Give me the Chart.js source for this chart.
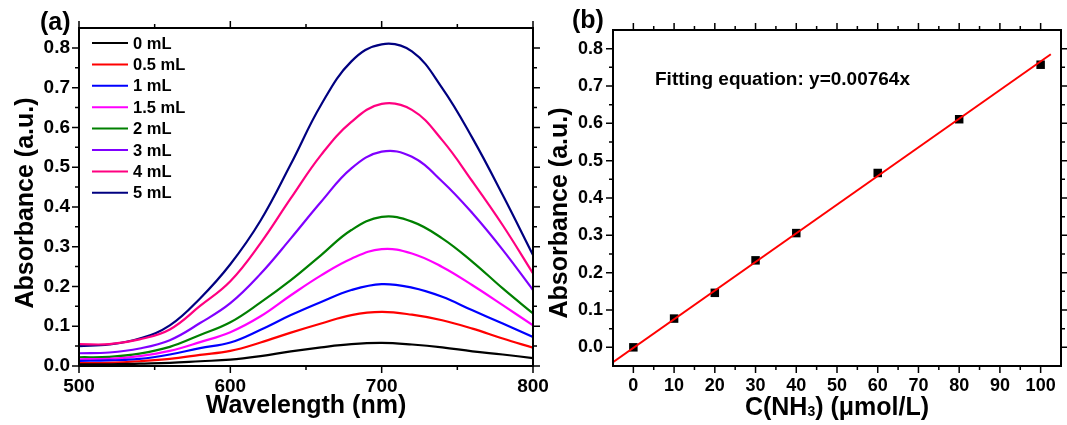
<!DOCTYPE html>
<html>
<head>
<meta charset="utf-8">
<script src="https://cdn.jsdelivr.net/npm/chart.js@4.4.1/dist/chart.umd.min.js"></script>
<style>
  html, body { margin: 0; padding: 0; background: #fff; }
  #wrap { position: relative; width: 1067px; height: 425px; overflow: hidden; background: #fff; }
  canvas { position: absolute; top: 0; }
  #chartA { left: 0; }
  #chartB { left: 540px; }
</style>
</head>
<body>
<div id="wrap">
  <canvas id="chartA" width="560" height="425"></canvas>
  <canvas id="chartB" width="527" height="425"></canvas>
</div>
<script>
const FONT = '"Liberation Sans", Arial, Helvetica, sans-serif';

// (a) absorption spectra, every 20 nm
const wavelengths = [500, 520, 540, 560, 580, 600, 620, 640, 660, 680, 700, 720, 740, 760, 780, 800];
const spectraLabels = ['0 mL', '0.5 mL', '1 mL', '1.5 mL', '2 mL', '3 mL', '4 mL', '5 mL'];
const spectraColors = ['#000000', '#ff0000', '#0000ff', '#ff00ff', '#008000', '#8000ff', '#ff0080', '#000080'];
const abs0mL   = [0.004, 0.004, 0.006, 0.008, 0.012, 0.016, 0.025, 0.037, 0.047, 0.055, 0.058, 0.054, 0.047, 0.037, 0.029, 0.020];
const abs05mL  = [0.007, 0.008, 0.012, 0.018, 0.028, 0.038, 0.059, 0.084, 0.107, 0.128, 0.136, 0.129, 0.115, 0.094, 0.069, 0.046];
const abs1mL   = [0.013, 0.014, 0.018, 0.029, 0.045, 0.059, 0.091, 0.128, 0.161, 0.191, 0.206, 0.197, 0.174, 0.140, 0.107, 0.073];
const abs15mL  = [0.017, 0.018, 0.025, 0.038, 0.060, 0.085, 0.125, 0.178, 0.228, 0.270, 0.294, 0.283, 0.249, 0.203, 0.153, 0.102];
const abs2mL   = [0.022, 0.023, 0.031, 0.048, 0.078, 0.110, 0.160, 0.216, 0.279, 0.342, 0.375, 0.363, 0.321, 0.262, 0.195, 0.132];
const abs3mL   = [0.032, 0.034, 0.044, 0.065, 0.108, 0.158, 0.232, 0.321, 0.413, 0.497, 0.539, 0.526, 0.464, 0.384, 0.292, 0.191];
const abs4mL   = [0.055, 0.055, 0.067, 0.092, 0.151, 0.213, 0.309, 0.422, 0.531, 0.614, 0.659, 0.644, 0.568, 0.464, 0.354, 0.233];
const abs5mL   = [0.050, 0.054, 0.069, 0.102, 0.170, 0.256, 0.366, 0.508, 0.657, 0.766, 0.809, 0.791, 0.699, 0.573, 0.430, 0.279];
const spectra = [abs0mL, abs05mL, abs1mL, abs15mL, abs2mL, abs3mL, abs4mL, abs5mL];

const aXTicks = [500, 600, 700, 800];
const aXMinor = [550, 650, 750];
const aYTicks = [0, 0.1, 0.2, 0.3, 0.4, 0.5, 0.6, 0.7, 0.8];
const aYMinor = [0.05, 0.15, 0.25, 0.35, 0.45, 0.55, 0.65, 0.75];

// (b) calibration points and fitted line
const concentrations = [0, 10, 20, 30, 40, 60, 80, 100];
const absorbances = [0.000, 0.077, 0.146, 0.233, 0.306, 0.467, 0.611, 0.757];
const fitX = [-5, 102.5];
const fitY = [-0.040, 0.785];

const bXTicks = [0, 10, 20, 30, 40, 50, 60, 70, 80, 90, 100];
const bXMinor = [5, 15, 25, 35, 45, 55, 65, 75, 85, 95];
const bYTicks = [0, 0.1, 0.2, 0.3, 0.4, 0.5, 0.6, 0.7, 0.8];
const bYMinor = [0.05, 0.15, 0.25, 0.35, 0.45, 0.55, 0.65, 0.75];

// box frame + outward ticks on all four sides
const frameTicks = {
    id: 'frameTicks',
    afterDatasetsDraw(chart, args, o) {
        const ctx = chart.ctx;
        const a = chart.chartArea;
        const xs = chart.scales.x, ys = chart.scales.y;
        ctx.save();
        ctx.strokeStyle = '#000';
        ctx.lineWidth = 1.5;
        ctx.beginPath();
        const xTick = (v, len) => {
            const px = xs.getPixelForValue(v);
            ctx.moveTo(px, a.bottom); ctx.lineTo(px, a.bottom + len);
            ctx.moveTo(px, a.top); ctx.lineTo(px, a.top - len);
        };
        const yTick = (v, len) => {
            const py = ys.getPixelForValue(v);
            ctx.moveTo(a.left, py); ctx.lineTo(a.left - len, py);
            ctx.moveTo(a.right, py); ctx.lineTo(a.right + len, py);
        };
        o.xMajor.forEach(v => xTick(v, 7));
        o.xMinor.forEach(v => xTick(v, 4));
        o.yMajor.forEach(v => yTick(v, 7));
        o.yMinor.forEach(v => yTick(v, 4));
        ctx.stroke();
        ctx.lineWidth = 2;
        ctx.strokeRect(a.left, a.top, a.right - a.left, a.bottom - a.top);
        ctx.restore();
    }
};

function axisX(min, max, ticks, fontSize, fmt) {
    return {
        type: 'linear', min: min, max: max,
        grid: { display: false, drawTicks: false },
        border: { display: false },
        afterBuildTicks: s => { s.ticks = ticks.map(v => ({ value: v })); },
        afterFit: s => { s.height = 59; s.paddingLeft = 0; s.paddingRight = 0; },
        ticks: { color: '#000', padding: 9, maxRotation: 0, autoSkip: false,
                 font: { family: FONT, size: fontSize, weight: 'bold' }, callback: fmt }
    };
}
function axisY(min, max, ticks, width, pad, fontSize) {
    return {
        type: 'linear', min: min, max: max,
        grid: { display: false, drawTicks: false },
        border: { display: false },
        afterBuildTicks: s => { s.ticks = ticks.map(v => ({ value: v })); },
        afterFit: s => { s.width = width; s.paddingTop = 0; s.paddingBottom = 0; },
        ticks: { color: '#000', padding: pad, autoSkip: false,
                 font: { family: FONT, size: fontSize, weight: 'bold' }, callback: v => v.toFixed(1) }
    };
}

// titles, panel letter and legend of (a)
const textA = {
    id: 'textA',
    afterDraw(chart) {
        const ctx = chart.ctx, a = chart.chartArea;
        ctx.save();
        ctx.fillStyle = '#000';
        ctx.font = 'bold 25px ' + FONT;
        ctx.textAlign = 'left';
        ctx.fillText('(a)', 40, 30);
        ctx.textAlign = 'center';
        ctx.fillText('Wavelength (nm)', (a.left + a.right) / 2, 413);
        ctx.save();
        ctx.translate(33, 203);
        ctx.rotate(-Math.PI / 2);
        ctx.fillText('Absorbance (a.u.)', 0, 0);
        ctx.restore();
        // legend
        ctx.font = 'bold 16.5px ' + FONT;
        ctx.textAlign = 'left';
        ctx.textBaseline = 'middle';
        chart.data.datasets.forEach((ds, i) => {
            const y = 43 + i * 21.4;
            ctx.strokeStyle = ds.borderColor;
            ctx.lineWidth = 2;
            ctx.beginPath();
            ctx.moveTo(92, y); ctx.lineTo(128, y);
            ctx.stroke();
            ctx.fillText(ds.label, 133, y + 1);
        });
        ctx.restore();
    }
};

// titles, panel letter and equation of (b)
const textB = {
    id: 'textB',
    afterDraw(chart) {
        const ctx = chart.ctx, a = chart.chartArea;
        ctx.save();
        ctx.fillStyle = '#000';
        ctx.font = 'bold 25px ' + FONT;
        ctx.textAlign = 'left';
        ctx.fillText('(b)', 32, 28);
        ctx.save();
        ctx.translate(27, 213);
        ctx.rotate(-Math.PI / 2);
        ctx.textAlign = 'center';
        ctx.fillText('Absorbance (a.u.)', 0, 0);
        ctx.restore();
        // C(NH3) (µmol/L) with subscript 3
        const p1 = 'C(NH', p2 = '3', p3 = ') (\u03bcmol/L)';
        const big = 'bold 25px ' + FONT, small = 'bold 14px ' + FONT;
        ctx.font = big;
        const w1 = ctx.measureText(p1).width, w3 = ctx.measureText(p3).width;
        ctx.font = small;
        const w2 = ctx.measureText(p2).width;
        let x0 = (a.left + a.right) / 2 - (w1 + w2 + w3) / 2;
        ctx.font = big;
        ctx.fillText(p1, x0, 415);
        ctx.font = small;
        ctx.fillText(p2, x0 + w1, 416);
        ctx.font = big;
        ctx.fillText(p3, x0 + w1 + w2, 415);
        ctx.font = 'bold 19px ' + FONT;
        ctx.fillText('Fitting equation: y=0.00764x', 115, 85);
        ctx.restore();
    }
};

new Chart(document.getElementById('chartA'), {
    type: 'line',
    data: {
        datasets: spectra.map((vals, i) => ({
            label: spectraLabels[i],
            data: wavelengths.map((w, j) => ({ x: w, y: vals[j] })),
            borderColor: spectraColors[i],
            backgroundColor: spectraColors[i],
            borderWidth: 2.2,
            pointRadius: 0,
            tension: 0.4,
            fill: false
        }))
    },
    options: {
        responsive: false,
        animation: false,
        layout: { padding: { top: 28, right: 27, left: 0, bottom: 0 } },
        plugins: {
            legend: { display: false },
            tooltip: { enabled: false },
            frameTicks: { xMajor: aXTicks, xMinor: aXMinor, yMajor: aYTicks, yMinor: aYMinor }
        },
        scales: {
            x: axisX(500, 800, aXTicks, 19, v => String(v)),
            y: axisY(0, 0.85, aYTicks, 79, 9, 19)
        }
    },
    plugins: [frameTicks, textA]
});

new Chart(document.getElementById('chartB'), {
    type: 'scatter',
    data: {
        datasets: [
            {
                label: 'Fit',
                data: fitX.map((x, i) => ({ x: x, y: fitY[i] })),
                showLine: true,
                borderColor: '#ff0000',
                borderWidth: 2,
                pointRadius: 0
            },
            {
                label: 'Absorbance',
                data: concentrations.map((c, i) => ({ x: c, y: absorbances[i] })),
                pointStyle: 'rect',
                pointRadius: 6,
                backgroundColor: '#000',
                borderColor: '#000',
                borderWidth: 0
            }
        ]
    },
    options: {
        responsive: false,
        animation: false,
        layout: { padding: { top: 30, right: 1, left: 0, bottom: 0 } },
        plugins: {
            legend: { display: false },
            tooltip: { enabled: false },
            frameTicks: { xMajor: bXTicks, xMinor: bXMinor, yMajor: bYTicks, yMinor: bYMinor }
        },
        scales: {
            x: axisX(-5, 105, bXTicks, 18, v => String(v)),
            y: axisY(-0.05, 0.85, bYTicks, 73, 10, 18)
        }
    },
    plugins: [frameTicks, textB]
});
</script>
</body>
</html>
